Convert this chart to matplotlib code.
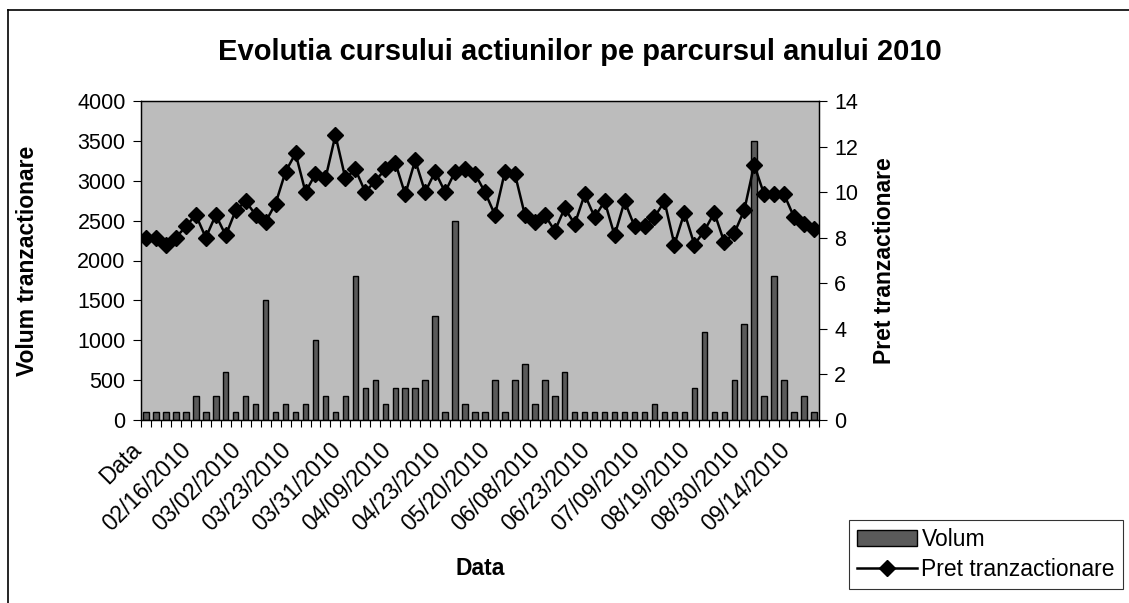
import matplotlib
matplotlib.use("Agg")
import matplotlib.pyplot as plt
import matplotlib.transforms as mtransforms
from matplotlib.lines import Line2D
import numpy as np

plt.rcParams['font.family'] = ['Liberation Sans', 'DejaVu Sans']

# volume per trading day (left axis)
volum = [100, 100, 100, 100, 100, 300, 100, 300, 600, 100,
         300, 200, 1500, 100, 200, 100, 200, 1000, 300, 100,
         300, 1800, 400, 500, 200, 400, 400, 400, 500, 1300,
         100, 2500, 200, 100, 100, 500, 100, 500, 700, 200,
         500, 300, 600, 100, 100, 100, 100, 100, 100, 100,
         100, 200, 100, 100, 100, 400, 1100, 100, 100, 500,
         1200, 3500, 300, 1800, 500, 100, 300, 100]

# price per trading day (right axis)
pret = [8.0, 8.0, 7.7, 8.0, 8.5, 9.0, 8.0, 9.0, 8.1, 9.2,
        9.6, 9.0, 8.7, 9.5, 10.9, 11.7, 10.0, 10.8, 10.6, 12.5,
        10.6, 11.0, 10.0, 10.5, 11.0, 11.3, 9.9, 11.4, 10.0, 10.9,
        10.0, 10.9, 11.0, 10.8, 10.0, 9.0, 10.9, 10.8, 9.0, 8.7,
        9.0, 8.3, 9.3, 8.6, 9.9, 8.9, 9.6, 8.1, 9.6, 8.5,
        8.5, 8.9, 9.6, 7.7, 9.1, 7.7, 8.3, 9.1, 7.8, 8.2,
        9.2, 11.2, 9.9, 9.9, 9.9, 8.9, 8.6, 8.4]

tick_labels = ['Data', '02/16/2010', '03/02/2010', '03/23/2010', '03/31/2010',
               '04/09/2010', '04/23/2010', '05/20/2010', '06/08/2010',
               '06/23/2010', '07/09/2010', '08/19/2010', '08/30/2010',
               '09/14/2010']
label_step = 5

n = len(volum)
x = np.arange(n)

fig = plt.figure(figsize=(11.29, 6.03), dpi=100)
ax = fig.add_axes([141 / 1129, 1 - 420 / 603, 678 / 1129, 319 / 603])
ax.set_facecolor('#bcbcbc')

ax.bar(x, volum, width=0.55, color='#5a5a5a', edgecolor='black', linewidth=1.0,
       label='Volum', zorder=2)
ax.set_xlim(-0.5, n - 0.5)
ax.set_ylim(0, 4000)
ax.set_yticks(np.arange(0, 4001, 500))
ax.tick_params(axis='y', labelsize=15.5, length=6, pad=5)
ax.set_ylabel('Volum tranzactionare', fontsize=16.5, fontweight='bold')
ax.yaxis.set_label_coords(-0.15, 0.5)

ax.set_xticks(np.arange(0, n, label_step))
ax.set_xticklabels(tick_labels, rotation=45, ha='right', va='center',
                   rotation_mode='anchor', fontsize=16.5)
ax.tick_params(axis='x', which='major', length=0, pad=19)
ax.set_xticks(np.arange(n + 1) - 0.5, minor=True)
ax.tick_params(axis='x', which='minor', length=5, width=0.8)
shift = mtransforms.ScaledTranslation(-8 / 100, 0, fig.dpi_scale_trans)
for lab in ax.get_xticklabels():
    lab.set_transform(lab.get_transform() + shift)
ax.set_xlabel('Data', fontsize=16.5, fontweight='bold')
ax.xaxis.set_label_coords(0.5, -0.43)

ax2 = ax.twinx()
ax2.plot(x, pret, color='black', linewidth=1.8, marker='D', markersize=8,
         label='Pret tranzactionare', zorder=3)
ax2.set_ylim(0, 14)
ax2.set_yticks(np.arange(0, 15, 2))
ax2.tick_params(axis='y', labelsize=15.5, length=6, pad=5)
ax2.set_ylabel('Pret tranzactionare', fontsize=16.5, fontweight='bold')
ax2.yaxis.set_label_coords(1.08, 0.5)

for a in (ax, ax2):
    for s in a.spines.values():
        s.set_linewidth(0.9)

fig.text(580 / 1129, 1 - 52 / 603, 'Evolutia cursului actiunilor pe parcursul anului 2010',
         ha='center', va='center', fontsize=21, fontweight='bold')

h1, l1 = ax.get_legend_handles_labels()
h2, l2 = ax2.get_legend_handles_labels()
leg = fig.legend(h1 + h2, l1 + l2, loc='lower right',
                 bbox_to_anchor=(1123 / 1129, 1 - 589 / 603), fontsize=16.5,
                 frameon=True, fancybox=False, edgecolor='black',
                 handlelength=2.6, handletextpad=0.2, borderpad=0.35,
                 labelspacing=0.3, borderaxespad=0)
leg.get_frame().set_linewidth(0.8)

# outer chart border
fig.add_artist(Line2D([8 / 1129, 8 / 1129], [0, 1 - 10 / 603], color='black', linewidth=1.2))
fig.add_artist(Line2D([8 / 1129, 1], [1 - 10 / 603, 1 - 10 / 603], color='black', linewidth=1.2))

fig.savefig('out.png', dpi=100)
